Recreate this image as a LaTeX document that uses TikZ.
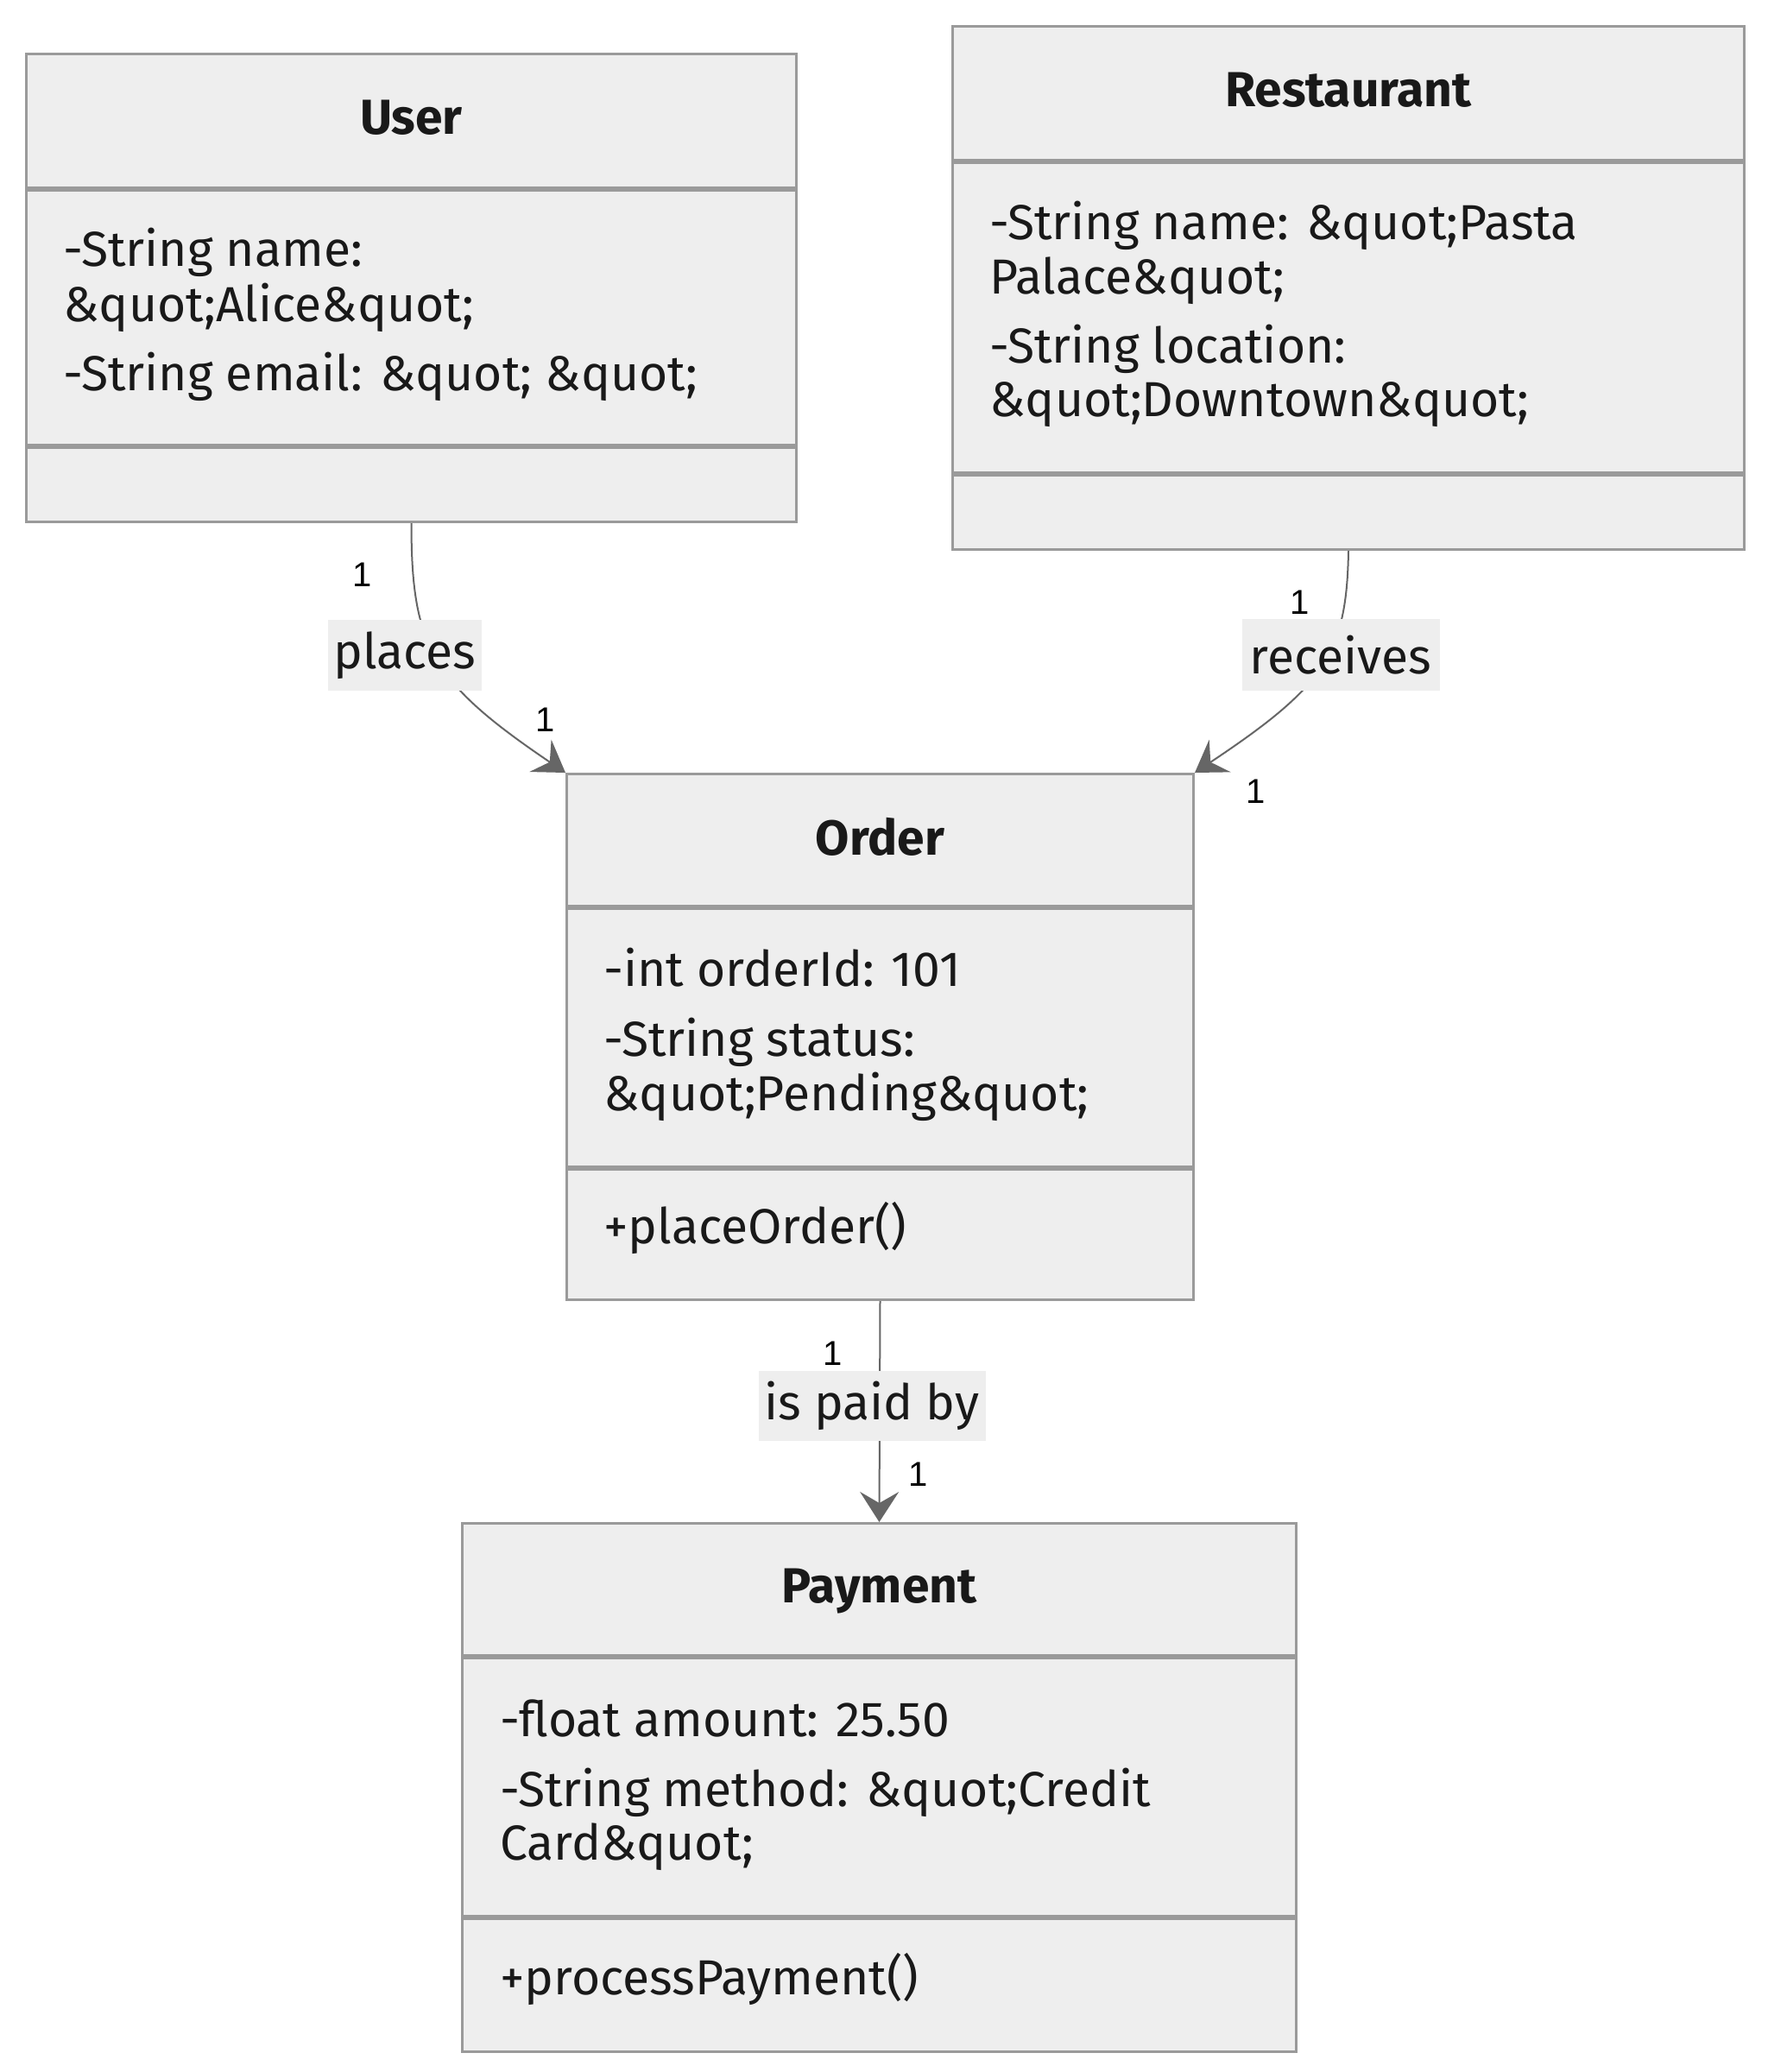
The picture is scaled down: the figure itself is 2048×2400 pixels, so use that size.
\documentclass[tikz,border=0pt]{standalone}
\usepackage{fontspec}
\setmainfont{Fira Sans}
\newfontfamily\numfont{Liberation Sans}
\usetikzlibrary{arrows.meta,positioning}
\definecolor{boxfill}{HTML}{EEEEEE}
\definecolor{boxline}{HTML}{9A9A9A}
\definecolor{edgeline}{HTML}{666666}
\newcommand{\txtsize}{\fontsize{28.5}{34}\selectfont}

\begin{document}
\begin{tikzpicture}[x=0.5pt, y=-0.5pt,
	part/.style={draw=boxline, fill=boxfill, line width=1.5pt, inner sep=0pt, anchor=north west},
	title/.style={part, font=\txtsize\bfseries, text=black!90, text depth=4pt},
	member/.style={anchor=mid west, inner sep=0pt, font=\txtsize, text=black!90},
	rel/.style={fill=boxfill, inner sep=0pt, font=\txtsize, text=black!90},
	mult/.style={inner sep=0pt, font=\fontsize{20}{22}\selectfont\numfont},
	assoc/.style={draw=edgeline, line width=1pt, -{Stealth[length=17.5pt, width=22.5pt, inset=6.5pt]}}
	]
	\fill[white] (0, 0) rectangle (2048, 2400);

	% classes
	\draw node[title, minimum width=446pt, minimum height=77.5pt] at (29, 61) (user) {User};
	\draw node[part, minimum width=446pt, minimum height=147.5pt] at (user.south west) (user-a) {};
	\draw node[part, minimum width=446pt, minimum height=43pt] at (user-a.south west) (user-m) {};
	\draw node[member] at (73, 303) (user-a1) {-String name:};
	\draw node[member] at (73, 367) (user-a2) {\&quot;Alice\&quot;};
	\draw node[member] at (73, 447) (user-a3) {-String email: \&quot; \&quot;};

	\draw node[title, minimum width=458.5pt, minimum height=77.5pt] at (1102, 29) (rest) {Restaurant};
	\draw node[part, minimum width=458.5pt, minimum height=179.5pt] at (rest.south west) (rest-a) {};
	\draw node[part, minimum width=458.5pt, minimum height=43pt] at (rest-a.south west) (rest-m) {};
	\draw node[member] at (1146, 272) (rest-a1) {-String name: \&quot;Pasta};
	\draw node[member] at (1146, 335) (rest-a2) {Palace\&quot;};
	\draw node[member] at (1146, 415) (rest-a3) {-String location:};
	\draw node[member] at (1146, 477) (rest-a4) {\&quot;Downtown\&quot;};

	\draw node[title, minimum width=363pt, minimum height=76.5pt] at (655, 895) (order) {Order};
	\draw node[part, minimum width=363pt, minimum height=149.5pt] at (order.south west) (order-a) {};
	\draw node[part, minimum width=363pt, minimum height=75.5pt] at (order-a.south west) (order-m) {};
	\draw node[member] at (699, 1137) (order-a1) {-int orderId: 101};
	\draw node[member] at (699, 1218) (order-a2) {-String status:};
	\draw node[member] at (699, 1281) (order-a3) {\&quot;Pending\&quot;};
	\draw node[member] at (699, 1435) (order-m1) {+placeOrder()};

	\draw node[title, minimum width=483pt, minimum height=76.5pt] at (534, 1763) (pay) {Payment};
	\draw node[part, minimum width=483pt, minimum height=149.5pt] at (pay.south west) (pay-a) {};
	\draw node[part, minimum width=483pt, minimum height=77pt] at (pay-a.south west) (pay-m) {};
	\draw node[member] at (579, 2006) (pay-a1) {-float amount: 25.50};
	\draw node[member] at (579, 2087) (pay-a2) {-String method: \&quot;Credit};
	\draw node[member] at (579, 2149) (pay-a3) {Card\&quot;};
	\draw node[member] at (579, 2305) (pay-m1) {+processPayment()};

	% relations
	\draw [assoc] (user-m.south) .. controls +(0, 143) and +(-155, -105) .. (order.north west);
	\draw [assoc] (rest-m.south) .. controls +(-2, 120) and +(150, -100) .. (order.north east);
	\draw [assoc] (order-m.south) -- (pay.north);

	\draw node[rel, minimum width=89pt, minimum height=41pt] at (469, 759) (places) {places};
	\draw node[rel, minimum width=114.5pt, minimum height=41.5pt] at (1553, 758.5) (receives) {receives};
	\draw node[rel, minimum width=131.5pt, minimum height=40.5pt] at (1010, 1628.5) (paidby) {is paid by};

	\draw node[mult] at (420, 666) (m1) {1};
	\draw node[mult] at (632, 834) (m2) {1};
	\draw node[mult] at (1506, 698) (m3) {1};
	\draw node[mult] at (1455, 917) (m4) {1};
	\draw node[mult] at (965, 1568) (m5) {1};
	\draw node[mult] at (1064, 1708) (m6) {1};
\end{tikzpicture}
\end{document}
